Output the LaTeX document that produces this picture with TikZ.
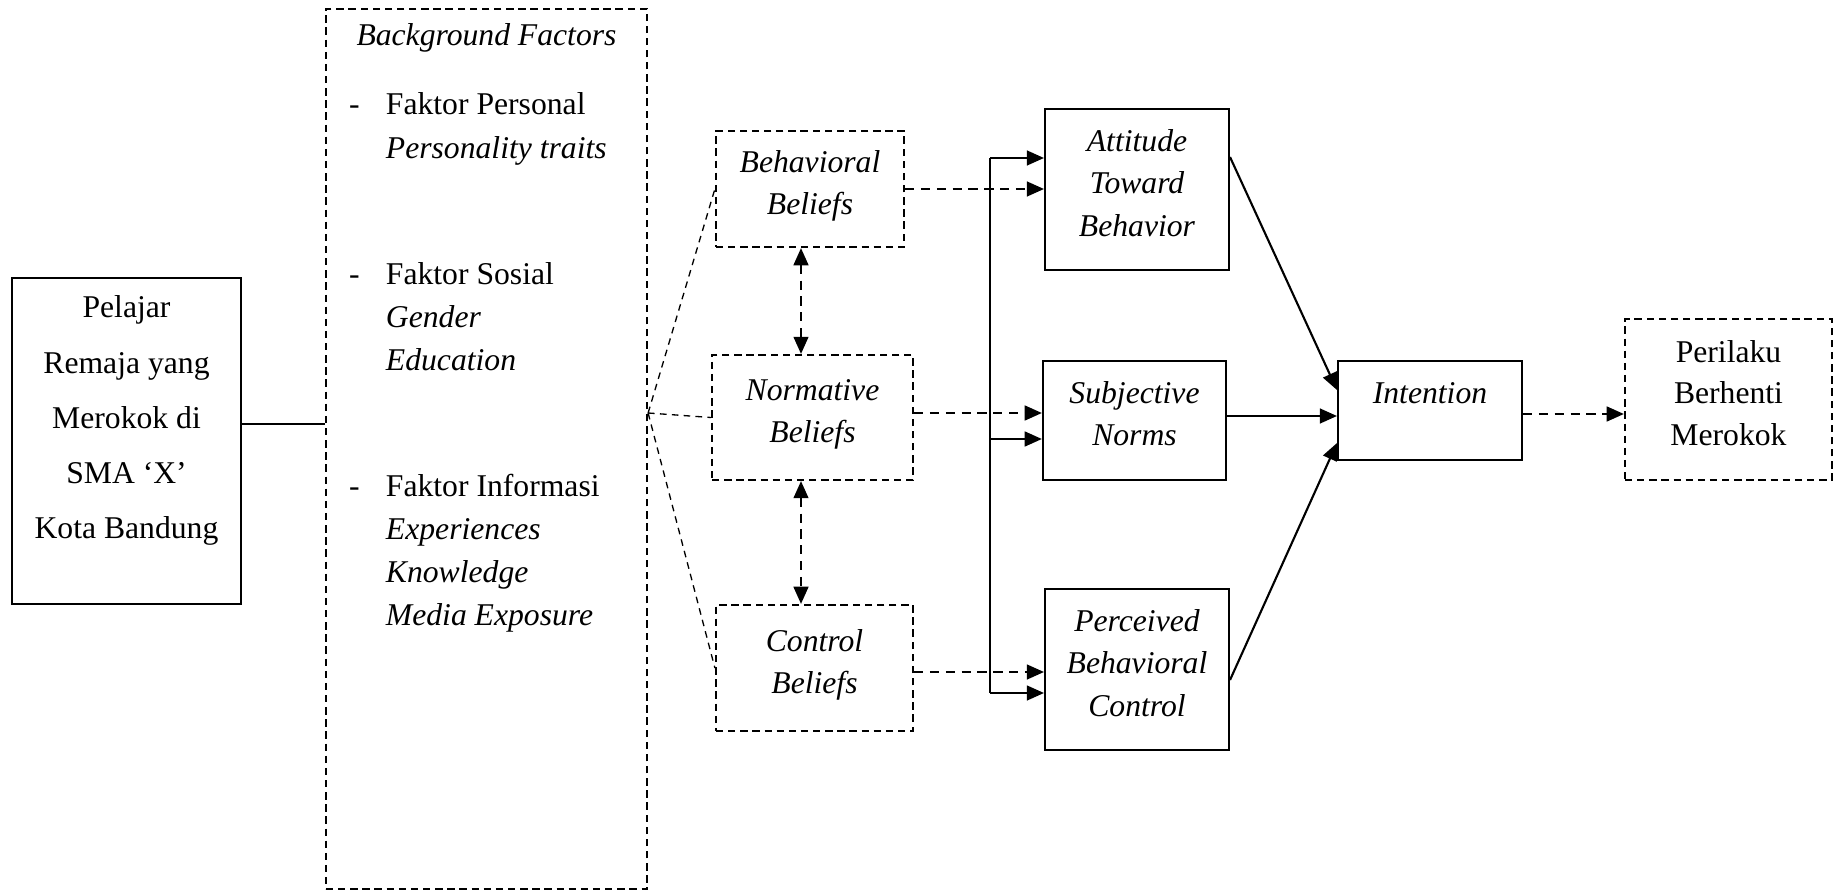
\documentclass[tikz,border=0pt]{standalone}
\usepackage{fontspec}
\setmainfont{Liberation Serif}
\usetikzlibrary{arrows.meta}

\begin{document}
\begin{tikzpicture}[x=0.379pt, y=-0.379pt,
        box/.style={draw, thick, align=center, font=\fontsize{12}{16}\selectfont, text depth=5pt},
        dbox/.style={box, dash pattern=on 2.8pt off 1.8pt},
        ital/.style={font=\fontsize{12}{16}\selectfont\itshape},
        arrow/.style={-{Triangle[length=6.5pt,width=5.6pt]}, thick},
        darrow/.style={arrow, dash pattern=on 3.5pt off 2.5pt},
        dblarrow/.style={{Triangle[length=6.5pt,width=5.6pt]}-{Triangle[length=6.5pt,width=5.6pt]}, thick, dash pattern=on 3.5pt off 2.5pt},
        fan/.style={line width=0.5pt, dash pattern=on 2.5pt off 2pt}
    ]
        \useasboundingbox (0,0) rectangle (1833,893);

        \node[box, minimum width=86.8pt, minimum height=123.6pt, text depth=18pt, font=\fontsize{12}{20.9}\selectfont] (pelajar) at (126.5,441) {Pelajar\\Remaja yang\\Merokok di\\SMA `X'\\Kota Bandung};

        \node[dbox, minimum width=121.7pt, minimum height=333.7pt] (bg) at (486.5,449) {};
        \node[anchor=base, font=\fontsize{12}{16}\selectfont\itshape] (bgtitle) at (486.5,46) {Background Factors};
        \node[anchor=base west, inner sep=0pt, font=\fontsize{12}{16.3}\selectfont] (bglist) at (348.5,115) {%
            \begin{tabular}[t]{@{}l@{\hspace{10pt}}l@{}}
                - & Faktor Personal\\
                  & \textit{Personality traits}\\[31.5pt]
                - & Faktor Sosial\\
                  & \textit{Gender}\\
                  & \textit{Education}\\[31.5pt]
                - & Faktor Informasi\\
                  & \textit{Experiences}\\
                  & \textit{Knowledge}\\
                  & \textit{Media Exposure}
            \end{tabular}};

        \node[dbox, ital, minimum width=71.3pt, minimum height=44pt] (behav) at (810,189) {Behavioral\\Beliefs};
        \node[dbox, ital, minimum width=76.2pt, minimum height=47.4pt] (norm) at (812.5,417.5) {Normative\\Beliefs};
        \node[dbox, ital, minimum width=74.7pt, minimum height=47.8pt] (control) at (814.5,668) {Control\\Beliefs};

        \node[box, ital, minimum width=69.7pt, minimum height=61pt] (att) at (1137,189.5) {Attitude\\Toward\\Behavior};
        \node[box, ital, minimum width=69.4pt, minimum height=45.1pt] (subj) at (1134.5,420.5) {Subjective\\Norms};
        \node[box, ital, minimum width=69.7pt, minimum height=61pt] (pbc) at (1137,669.5) {Perceived\\Behavioral\\Control};

        \node[box, ital, minimum width=69.7pt, minimum height=37.5pt, text depth=13pt] (int) at (1430,410.5) {Intention};
        \node[dbox, minimum width=78.5pt, minimum height=61pt, font=\fontsize{12}{15.8}\selectfont] (peri) at (1728.5,399.5) {Perilaku\\Berhenti\\Merokok};

        \coordinate (fan) at (bg.east |- 0,413);
        \coordinate (bustop) at (990,158);
        \coordinate (busmid) at (990,439);
        \coordinate (busbot) at (990,693);

        \draw[semithick] (pelajar.east |- 0,424) -- (bg.west |- 0,424);

        \draw[fan] (fan) -- (behav.west);
        \draw[fan] (fan) -- (norm.west);
        \draw[fan] (fan) -- (control.west);

        \draw[dblarrow] (behav.south -| 801,0) -- (norm.north -| 801,0);
        \draw[dblarrow] (norm.south -| 801,0) -- (control.north -| 801,0);

        \draw[darrow] (behav.east) -- (behav.east -| att.west);
        \draw[darrow] (norm.east |- 0,413) -- (subj.west |- 0,413);
        \draw[darrow] (control.east |- 0,672) -- (pbc.west |- 0,672);

        \draw[thick] (bustop) -- (busbot);
        \draw[arrow] (bustop) -- (bustop -| att.west);
        \draw[arrow] (busmid) -- (busmid -| subj.west);
        \draw[arrow] (busbot) -- (busbot -| pbc.west);

        \draw[arrow] (att.east |- 0,157) -- (int.west |- 0,390);
        \draw[arrow] (subj.east |- 0,416) -- (int.west |- 0,416);
        \draw[arrow] (pbc.east |- 0,680) -- (int.west |- 0,443);
        \draw[darrow] (int.east |- 0,414) -- (peri.west |- 0,414);
    \end{tikzpicture}
\end{document}
